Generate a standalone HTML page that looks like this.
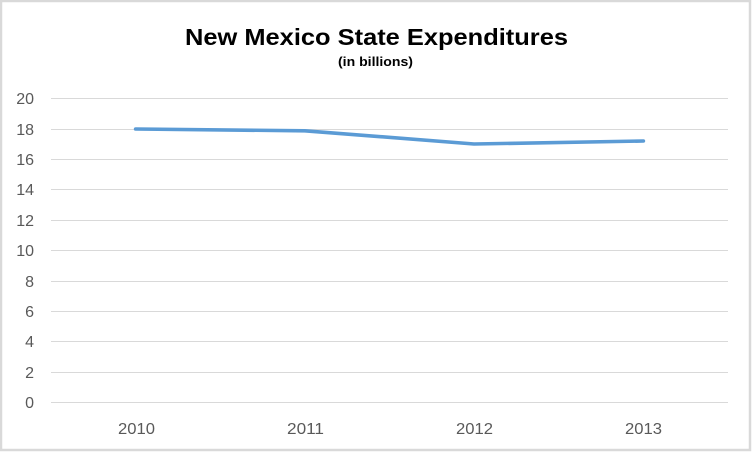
<!DOCTYPE html>
<html>
<head>
<meta charset="utf-8">
<style>
  html, body { margin: 0; padding: 0; background: #fff; }
  svg { display: block; }
</style>
</head>
<body>
<svg width="752" height="452" viewBox="0 0 752 452" xmlns="http://www.w3.org/2000/svg">
  <rect x="0" y="0" width="752" height="452" fill="#ffffff"/>
  <!-- border -->
  <rect x="1" y="1" width="749" height="449" fill="none" stroke="#d9d9d9" stroke-width="2.5"/>

  <!-- title -->
  <text x="376.5" y="45" text-anchor="middle" font-family="Liberation Sans, Arial, sans-serif" font-weight="bold" font-size="23.5" fill="#000" textLength="383" lengthAdjust="spacingAndGlyphs">New Mexico State Expenditures</text>
  <text x="375.5" y="66" text-anchor="middle" font-family="Liberation Sans, Arial, sans-serif" font-weight="bold" font-size="12.5" fill="#000" textLength="75" lengthAdjust="spacingAndGlyphs">(in billions)</text>

  <!-- gridlines -->
  <g stroke="#d9d9d9" stroke-width="1">
    <line x1="51" y1="98.5" x2="728" y2="98.5"/>
    <line x1="51" y1="129.5" x2="728" y2="129.5"/>
    <line x1="51" y1="159.5" x2="728" y2="159.5"/>
    <line x1="51" y1="189.5" x2="728" y2="189.5"/>
    <line x1="51" y1="220.5" x2="728" y2="220.5"/>
    <line x1="51" y1="250.5" x2="728" y2="250.5"/>
    <line x1="51" y1="281.5" x2="728" y2="281.5"/>
    <line x1="51" y1="311.5" x2="728" y2="311.5"/>
    <line x1="51" y1="341.5" x2="728" y2="341.5"/>
    <line x1="51" y1="372.5" x2="728" y2="372.5"/>
    <line x1="51" y1="402.5" x2="728" y2="402.5"/>
  </g>

  <!-- y labels -->
  <g font-family="Liberation Sans, Arial, sans-serif" font-size="16" fill="#595959" text-anchor="end">
    <text x="34" y="104">20</text>
    <text x="34" y="135">18</text>
    <text x="34" y="165">16</text>
    <text x="34" y="195">14</text>
    <text x="34" y="226">12</text>
    <text x="34" y="256">10</text>
    <text x="34" y="287">8</text>
    <text x="34" y="317">6</text>
    <text x="34" y="347">4</text>
    <text x="34" y="378">2</text>
    <text x="34" y="408">0</text>
  </g>

  <!-- x labels -->
  <g font-family="Liberation Sans, Arial, sans-serif" font-size="16" fill="#595959" text-anchor="middle">
    <text x="136.5" y="434" textLength="37" lengthAdjust="spacingAndGlyphs">2010</text>
    <text x="305.5" y="434" textLength="37" lengthAdjust="spacingAndGlyphs">2011</text>
    <text x="474.5" y="434" textLength="37" lengthAdjust="spacingAndGlyphs">2012</text>
    <text x="643.5" y="434" textLength="37" lengthAdjust="spacingAndGlyphs">2013</text>
  </g>

  <!-- series -->
  <polyline points="135.6,129 304.9,130.8 474,144 643.4,141" fill="none" stroke="#5b9bd5" stroke-width="3.6" stroke-linecap="round" stroke-linejoin="round"/>
</svg>
</body>
</html>
